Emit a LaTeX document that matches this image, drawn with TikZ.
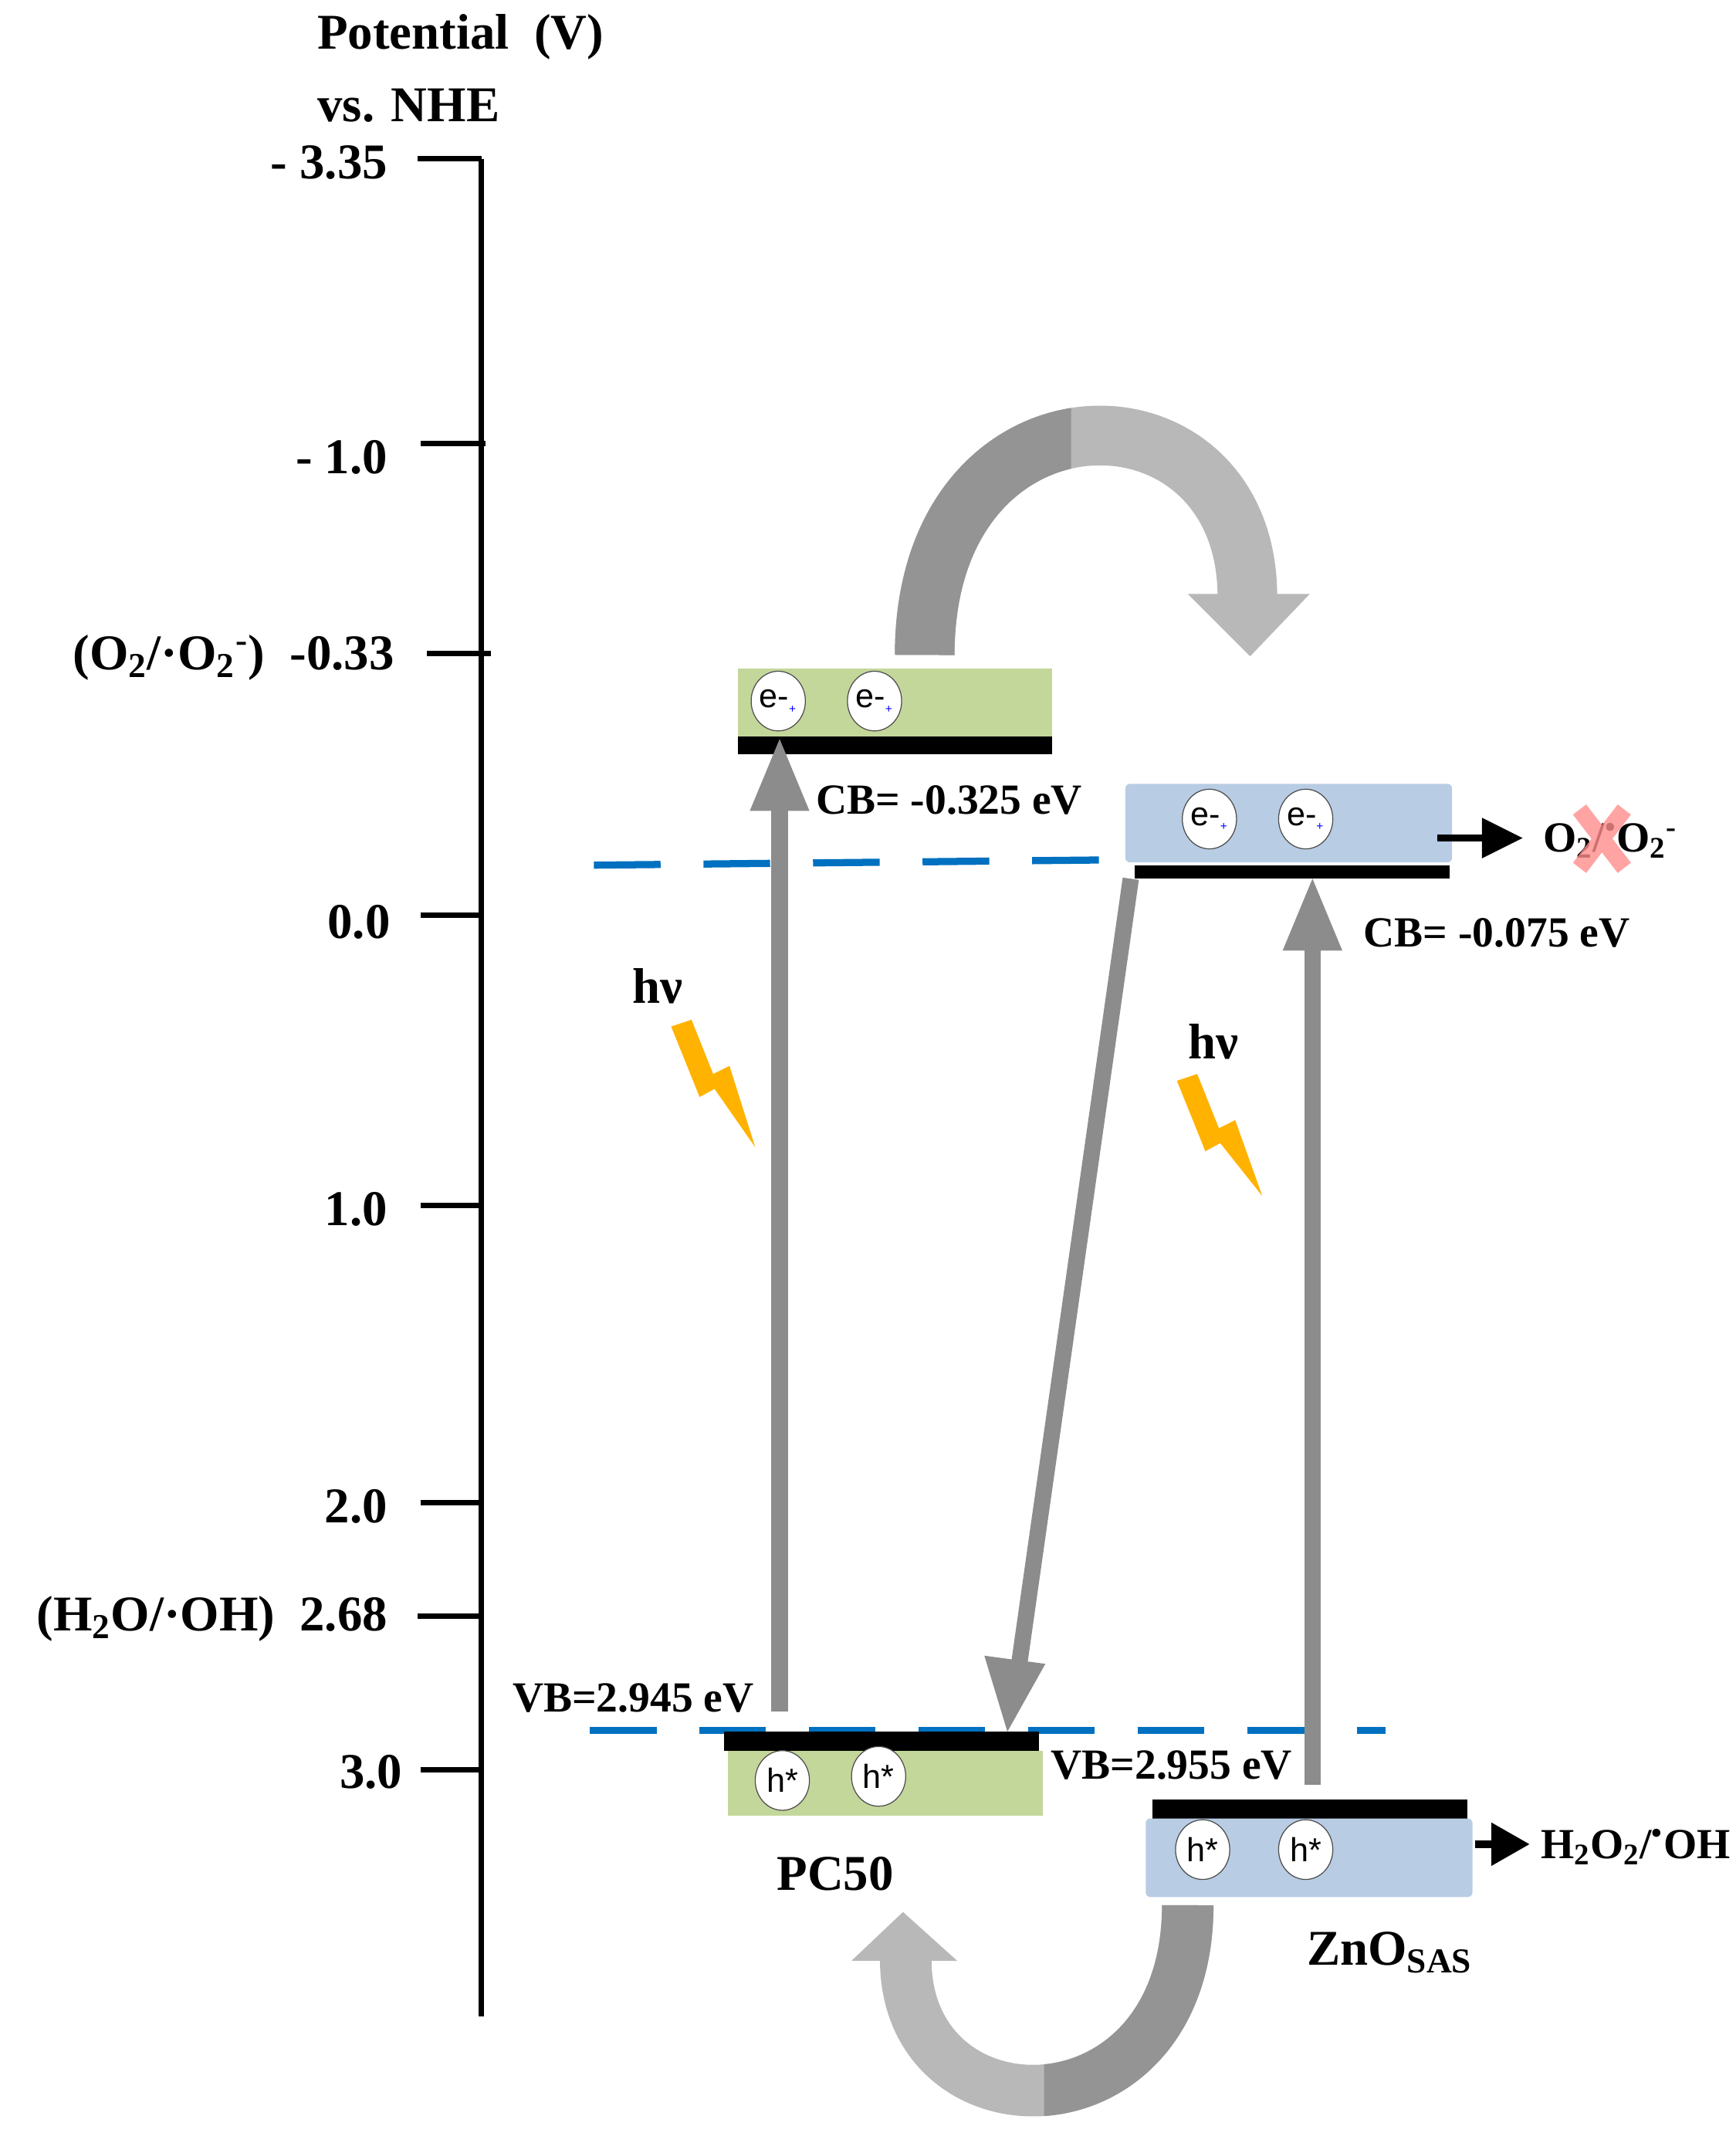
\documentclass[tikz,border=0pt]{standalone}
\usepackage{fontspec}
\setmainfont{Liberation Serif}
\setsansfont{Liberation Sans}
\usetikzlibrary{shapes.geometric}
\definecolor{gfill}{HTML}{C4D79B}
\definecolor{bfill}{HTML}{B8CCE4}
\definecolor{dashc}{HTML}{0070C0}
\begin{document}
\begin{tikzpicture}[x=0.02cm,y=-0.02cm,
  big/.style={font=\bfseries\fontsize{21}{25}\selectfont},
  mid/.style={font=\bfseries\fontsize{18}{22}\selectfont},
  tick/.style={line width=2.2pt},
  bar/.style={fill=black},
  gbox/.style={fill=gfill, draw=none},
  bbox/.style={fill=bfill, draw=none, rounded corners=2pt},
  carrier/.style={draw=black!70, fill=white, ellipse, inner sep=0pt, minimum width=40*0.02cm, minimum height=44*0.02cm, font=\sffamily\fontsize{14}{15}\selectfont},
  garrow/.style={draw=black!45, line width=12*0.02cm},
  ghead/.style={fill=black!45},
  bluedash/.style={draw=dashc, line width=3pt, dash pattern=on 28pt off 18pt},
  bolt/.style={fill=orange!60!yellow, draw=none}]
\useasboundingbox (0,0) rectangle (1280,1573);
% axis
\coordinate (atop) at (355,117); \coordinate (abot) at (355,1487);
\draw[line width=2.5pt] (atop) -- (abot);
\foreach \y/\a/\b in {117/308/355,327/310/358,482/315/362,675/310/355,889/310/355,1108/310/355,1192/308/355,1305/310/355}
  \draw[tick] (\a,\y) -- (\b,\y);
\node[big,anchor=west] (t1) at (228,27) {Potential\ \ (V)};
\node[big,anchor=west] (t2) at (228,78) {vs. NHE};
\node[big,anchor=east] (l1) at (292,120) {- 3.35};
\node[big,anchor=east] (l2) at (292,337) {- 1.0};
\node[big,anchor=east] (l3) at (297,485) {(O\textsubscript{2}/·O\textsubscript{2}\textsuperscript{-})\ \ -0.33};
\node[big,anchor=east] (l4) at (294,680) {0.0};
\node[big,anchor=east] (l5) at (292,892) {1.0};
\node[big,anchor=east] (l6) at (292,1111) {2.0};
\node[big,anchor=east] (l7) at (292,1194) {(H\textsubscript{2}O/·OH)\ \ 2.68};
\node[big,anchor=east] (l8) at (303,1307) {3.0};
% dashed lines
\draw[bluedash] (438,638) -- (830,634);
\draw[bluedash] (435,1276) -- (1022,1276);
% PC50 CB
\fill[gbox] (544,493) rectangle (776,545);
\fill[bar] (544,543) rectangle (776,556);
\node[carrier] (e1) at (574,517) {e-\textsubscript{\color{blue}\tiny+}};
\node[carrier] (e2) at (645,517) {e-\textsubscript{\color{blue}\tiny+}};
% ZnO CB
\fill[bbox] (830,578) rectangle (1071,636);
\fill[bar] (837,638) rectangle (1069,648);
\node[carrier] (e3) at (892,604) {e-\textsubscript{\color{blue}\tiny+}};
\node[carrier] (e4) at (963,604) {e-\textsubscript{\color{blue}\tiny+}};
% PC50 VB
\fill[bar] (534,1277) rectangle (766,1291);
\fill[gbox] (537,1291) rectangle (769,1339);
\node[carrier] (h1) at (577,1313) {h*};
\node[carrier] (h2) at (648,1310) {h*};
% ZnO VB
\fill[bar] (850,1327) rectangle (1082,1341);
\fill[bbox] (845,1341) rectangle (1086,1399);
\node[carrier] (h3) at (887,1364) {h*};
\node[carrier] (h4) at (963,1364) {h*};
% vertical excitation arrows
\coordinate (p0) at (575,1262); \coordinate (p1) at (575,595);
\draw[garrow] (p0) -- (p1);
\fill[ghead] (575,545) -- (597,598) -- (553,598) -- cycle;
\coordinate (z0) at (968,1316); \coordinate (z1) at (968,698);
\draw[garrow] (z0) -- (z1);
\fill[ghead] (968,648) -- (990,701) -- (946,701) -- cycle;
% diagonal transfer
\coordinate (d0) at (834,648); \coordinate (d1) at (752,1225);
\draw[garrow] (d0) -- (d1);
\fill[ghead] (743,1277) -- (726,1221) -- (771,1227) -- cycle;
% small black arrows
\coordinate (s0) at (1060,618); \coordinate (s1) at (1095,618);
\draw[line width=3pt] (s0) -- (s1);
\fill (1123,618) -- (1093,603) -- (1093,633) -- cycle;
\coordinate (s2) at (1088,1360); \coordinate (s3) at (1102,1360);
\draw[line width=3pt] (s2) -- (s3);
\fill (1128,1360) -- (1100,1344) -- (1100,1376) -- cycle;
\node[mid,anchor=west,inner sep=0pt] (o2) at (1138,620) {O\textsubscript{2}/\textsuperscript{\textbullet}O\textsubscript{2}\textsuperscript{-}};
\draw[red!45,line width=7pt,opacity=0.8] (1165,597) -- (1198,640) (1198,597) -- (1165,640);
\node[mid,anchor=west,inner sep=0pt] (h2o2) at (1136,1362) {H\textsubscript{2}O\textsubscript{2}/\textsuperscript{\textbullet}OH};
% labels
\node[mid] (cb1) at (700,590) {CB= -0.325 eV};
\node[mid] (cb2) at (1104,688) {CB= -0.075 eV};
\node[mid] (vb1) at (467,1252) {VB=2.945 eV};
\node[mid] (vb2) at (864,1302) {VB=2.955 eV};
\node[big] (pc) at (616,1382) {PC50};
\node[big] (zn) at (1025,1440) {ZnO\textsubscript{SAS}};
\node[big] (hv1) at (485,727) {hν};
\node[big] (hv2) at (895,768) {hν};
% bolts
\fill[bolt] (495,757) -- (510,752) -- (526,792) -- (538,786) -- (557,846) -- (527,803) -- (516,809) -- cycle;
\fill[bolt] (868,797) -- (883,792) -- (899,832) -- (911,826) -- (931,882) -- (900,843) -- (889,849) -- cycle;
% top curved arrow
\draw[line width=44*0.02cm, black!28] (682,483) .. controls (682,275) and (920,275) .. (920,440);
\begin{scope}
\clip (600,200) rectangle (790,490);
\draw[line width=44*0.02cm, black!42] (682,483) .. controls (682,275) and (920,275) .. (920,440);
\end{scope}
\fill[black!28] (922,484) -- (966,438) -- (876,438) -- cycle;
% bottom curved arrow
\draw[line width=38*0.02cm, black!28] (876,1405) .. controls (876,1580) and (668,1580) .. (668,1445);
\begin{scope}
\clip (770,1400) rectangle (920,1570);
\draw[line width=38*0.02cm, black!42] (876,1405) .. controls (876,1580) and (668,1580) .. (668,1445);
\end{scope}
\fill[black!28] (666,1410) -- (706,1446) -- (628,1446) -- cycle;
\end{tikzpicture}
\end{document}
